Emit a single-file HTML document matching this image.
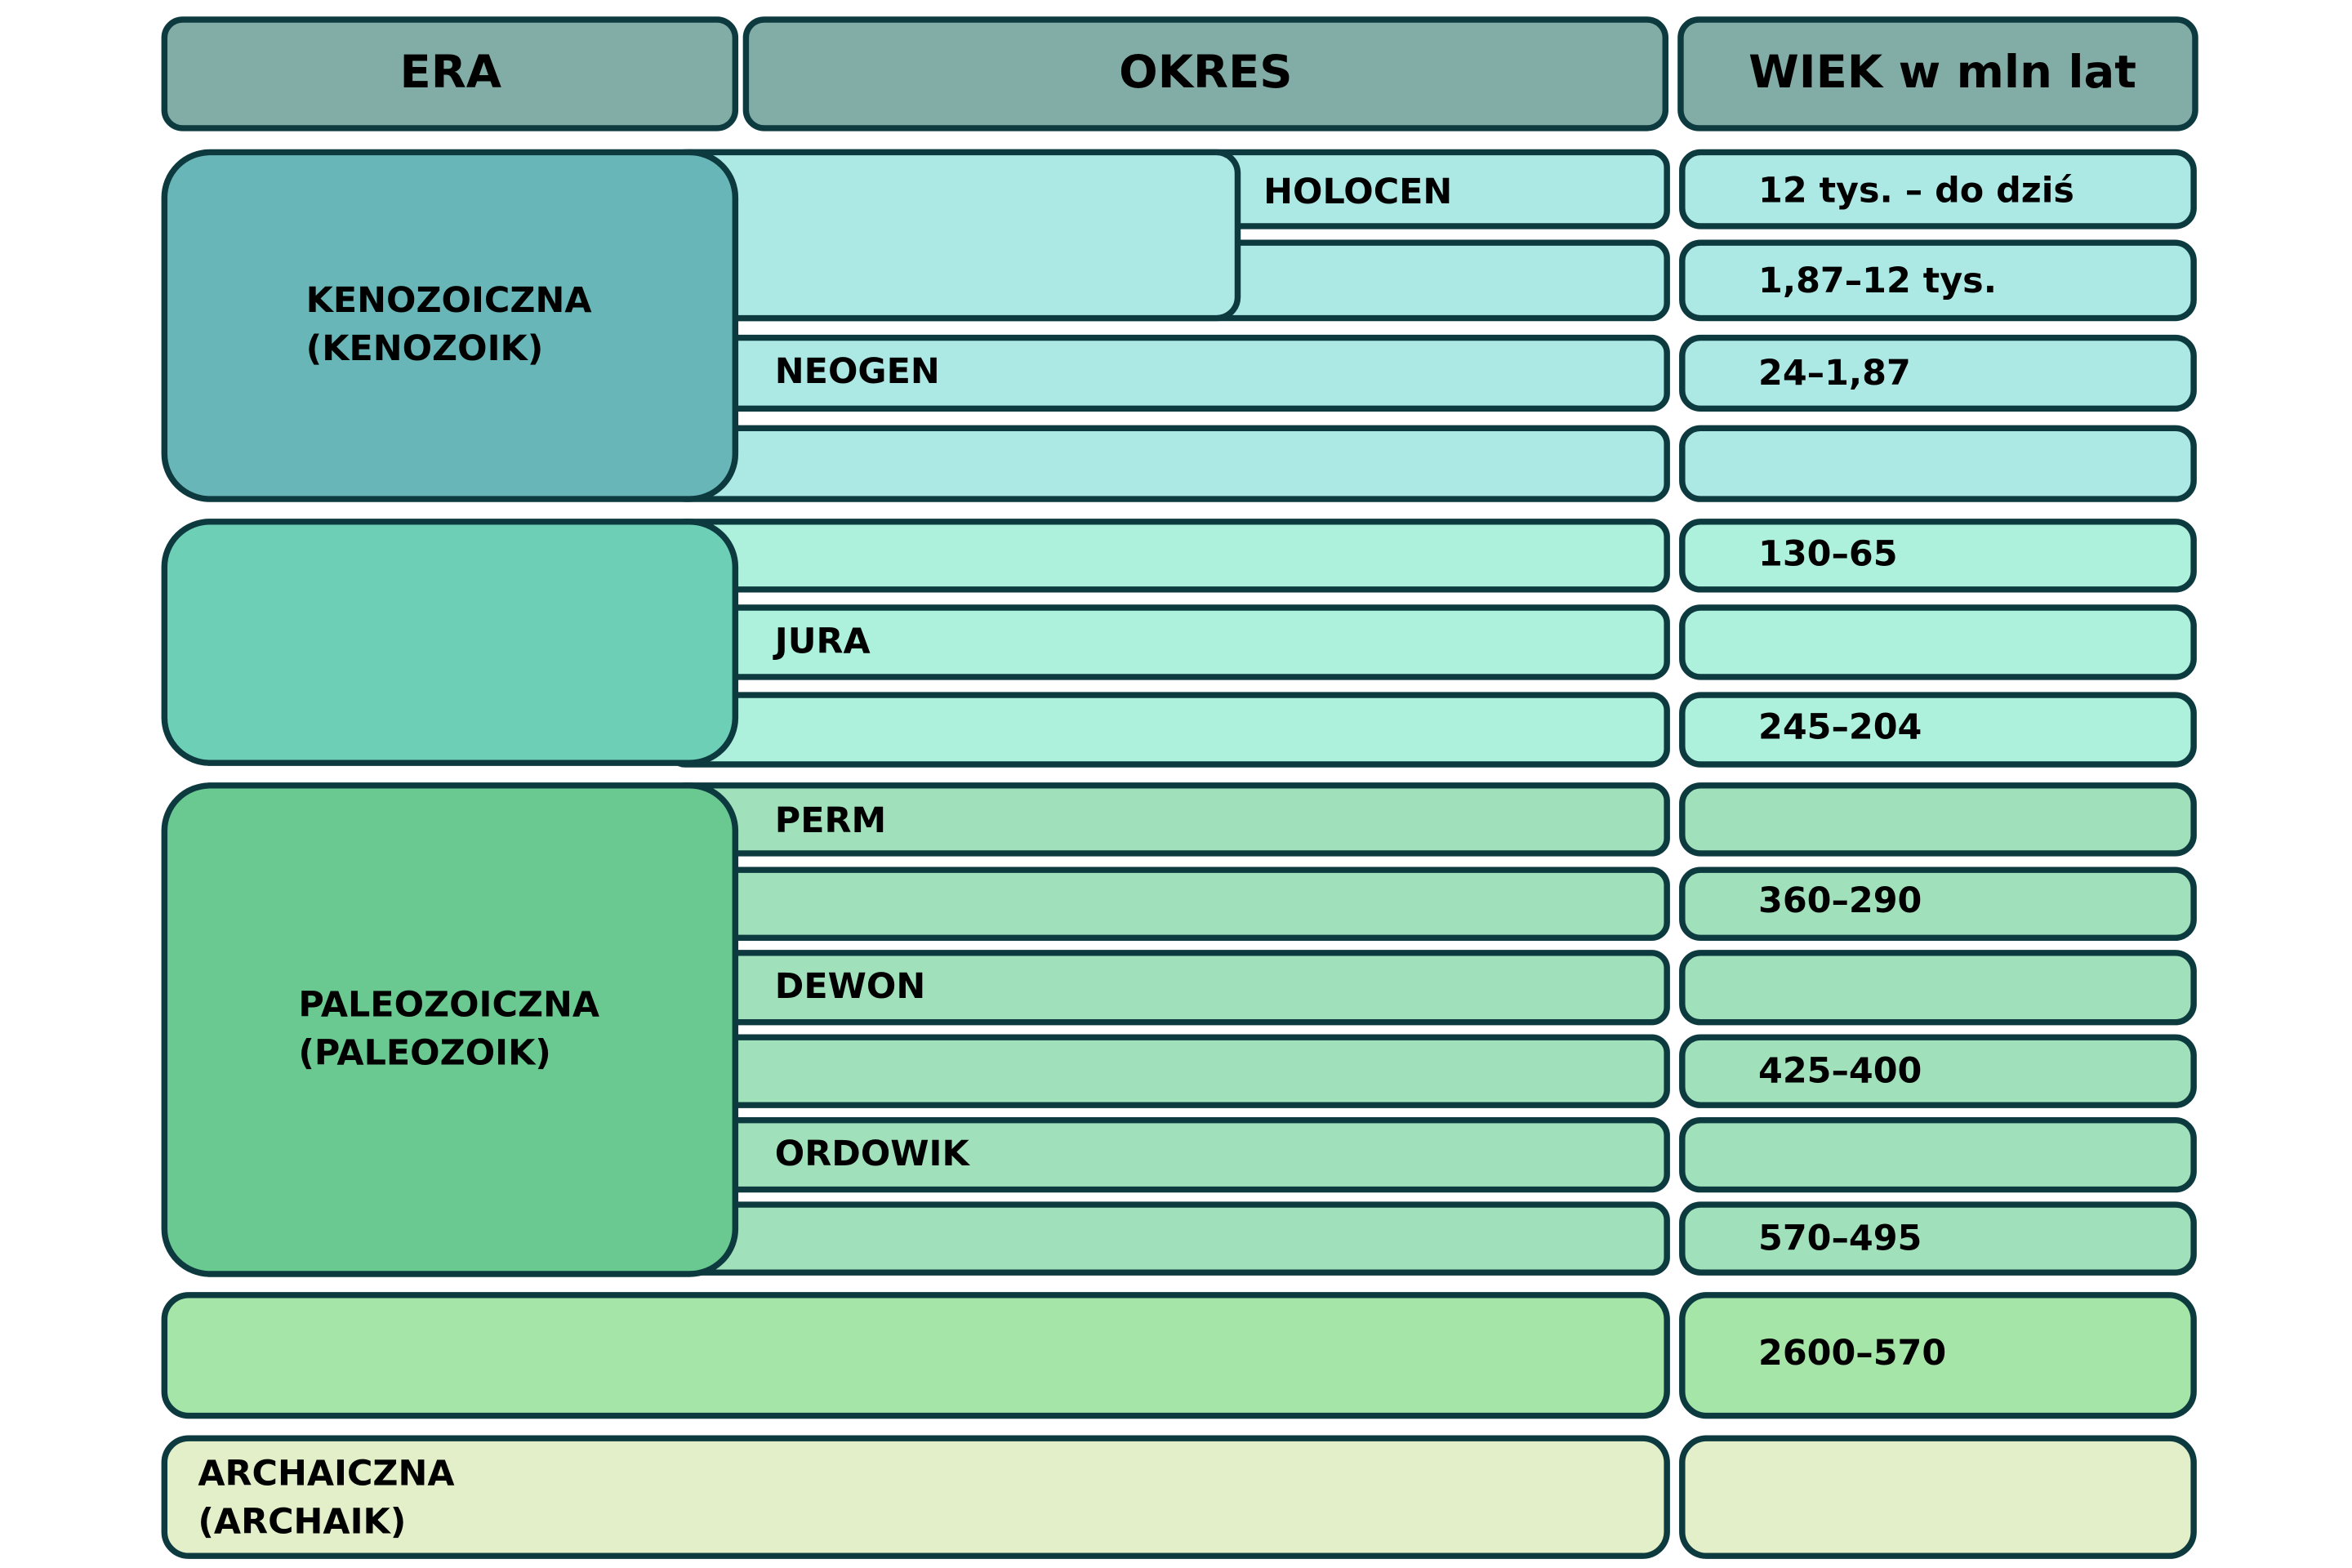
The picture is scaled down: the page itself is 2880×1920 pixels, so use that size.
<!DOCTYPE html>
<html><head><meta charset="utf-8"><style>
html,body{margin:0;padding:0;background:#fff;}
svg{display:block;}
text{font-family:"DejaVu Sans","Liberation Sans",sans-serif;font-weight:bold;fill:#000;}
</style></head><body>
<svg width="2880" height="1920" viewBox="0 0 1545 1040" preserveAspectRatio="none" xmlns="http://www.w3.org/2000/svg">
<g stroke="#0d3a3f" stroke-width="4">
<!-- headers -->
<rect x="108" y="13" width="375" height="72" rx="12" fill="#82ada7"/>
<rect x="490" y="13" width="604" height="72" rx="12" fill="#82ada7"/>
<rect x="1104" y="13" width="338" height="72" rx="12" fill="#82ada7"/>
<!-- keno periods -->
<rect x="440" y="101" width="655" height="49" rx="10" fill="#ace8e4"/>
<rect x="440" y="161" width="655" height="50" rx="10" fill="#ace8e4"/>
<rect x="440" y="224" width="655" height="47" rx="10" fill="#ace8e4"/>
<rect x="440" y="284" width="655" height="47" rx="10" fill="#ace8e4"/>
<rect x="440" y="101" width="373" height="110" rx="14" fill="#ace8e4"/>
<!-- mezo periods -->
<rect x="440" y="346" width="655" height="45" rx="10" fill="#adf0dc"/>
<rect x="440" y="403" width="655" height="46" rx="10" fill="#adf0dc"/>
<rect x="440" y="461" width="655" height="46" rx="10" fill="#adf0dc"/>
<!-- paleo periods -->
<rect x="440" y="521" width="655" height="45" rx="10" fill="#a0e1bb"/>
<rect x="440" y="577" width="655" height="45" rx="10" fill="#a0e1bb"/>
<rect x="440" y="632" width="655" height="46" rx="10" fill="#a0e1bb"/>
<rect x="440" y="688" width="655" height="45" rx="10" fill="#a0e1bb"/>
<rect x="440" y="743" width="655" height="46" rx="10" fill="#a0e1bb"/>
<rect x="440" y="799" width="655" height="45" rx="10" fill="#a0e1bb"/>
<!-- eras -->
<rect x="108" y="101" width="375" height="230" rx="30" fill="#69b6b8"/>
<rect x="108" y="346" width="375" height="160" rx="30" fill="#6dcfb6"/>
<rect x="108" y="521" width="375" height="324" rx="30" fill="#69c990"/>
<rect x="108" y="859" width="987" height="80" rx="16" fill="#a5e5a7"/>
<rect x="108" y="954" width="987" height="78" rx="16" fill="#e2efc8"/>
<!-- right column -->
<rect x="1105" y="101" width="336" height="49" rx="12" fill="#ace8e4"/>
<rect x="1105" y="161" width="336" height="50" rx="12" fill="#ace8e4"/>
<rect x="1105" y="224" width="336" height="47" rx="12" fill="#ace8e4"/>
<rect x="1105" y="284" width="336" height="47" rx="12" fill="#ace8e4"/>
<rect x="1105" y="346" width="336" height="45" rx="12" fill="#adf0dc"/>
<rect x="1105" y="403" width="336" height="46" rx="12" fill="#adf0dc"/>
<rect x="1105" y="461" width="336" height="46" rx="12" fill="#adf0dc"/>
<rect x="1105" y="521" width="336" height="45" rx="12" fill="#a0e1bb"/>
<rect x="1105" y="577" width="336" height="45" rx="12" fill="#a0e1bb"/>
<rect x="1105" y="632" width="336" height="46" rx="12" fill="#a0e1bb"/>
<rect x="1105" y="688" width="336" height="45" rx="12" fill="#a0e1bb"/>
<rect x="1105" y="743" width="336" height="46" rx="12" fill="#a0e1bb"/>
<rect x="1105" y="799" width="336" height="45" rx="12" fill="#a0e1bb"/>
<rect x="1105" y="859" width="336" height="80" rx="16" fill="#a5e5a7"/>
<rect x="1105" y="954" width="336" height="78" rx="16" fill="#e2efc8"/>
</g>
<g font-size="30" text-anchor="middle">
<text x="296" y="58">ERA</text>
<text x="792" y="58">OKRES</text>
<text x="1276" y="58">WIEK w mln lat</text>
</g>
<g font-size="23">
<text x="830" y="135">HOLOCEN</text>
<text x="509" y="254">NEOGEN</text>
<text x="509" y="433">JURA</text>
<text x="509" y="552">PERM</text>
<text x="509" y="662">DEWON</text>
<text x="509" y="773">ORDOWIK</text>
<text x="201" y="207">KENOZOICZNA</text>
<text x="201" y="239">(KENOZOIK)</text>
<text x="196" y="674">PALEOZOICZNA</text>
<text x="196" y="706">(PALEOZOIK)</text>
<text x="130" y="985">ARCHAICZNA</text>
<text x="130" y="1017">(ARCHAIK)</text>
<text x="1155" y="134">12 tys. – do dziś</text>
<text x="1155" y="194">1,87–12 tys.</text>
<text x="1155" y="255">24–1,87</text>
<text x="1155" y="375">130–65</text>
<text x="1155" y="490">245–204</text>
<text x="1155" y="605">360–290</text>
<text x="1155" y="718">425–400</text>
<text x="1155" y="829">570–495</text>
<text x="1155" y="905">2600–570</text>
</g>
</svg>
</body></html>
